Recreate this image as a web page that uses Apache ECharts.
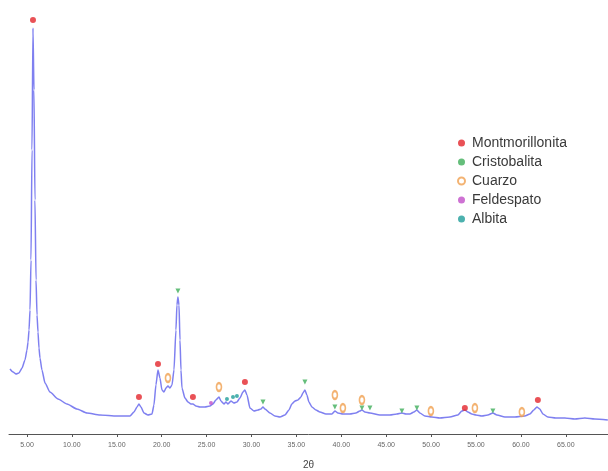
<!DOCTYPE html>
<html>
<head>
<meta charset="utf-8">
<script src="https://cdn.jsdelivr.net/npm/echarts@6/dist/echarts.min.js"></script>
<style>
  html, body { margin: 0; padding: 0; background: #fff; }
  #chart { width: 608px; height: 471px; }
</style>
</head>
<body>
<div id="chart"></div>
<script>
// XRD pattern: 2θ (degrees) and intensity (arbitrary units)
var twoTheta = [
  3.11, 3.45, 3.78, 4.11, 4.45, 4.78, 5.00, 5.12, 5.23, 5.34, 5.45, 5.56, 5.67, 5.78, 5.89, 6.01,
  6.12, 6.23, 6.34, 6.45, 6.67, 7.01, 7.56, 8.46, 9.46, 10.57, 11.68, 13.13, 15.02, 16.47, 16.92,
  17.25, 17.47, 17.69, 18.03, 18.47, 18.92, 19.14, 19.36, 19.59, 19.81, 20.03, 20.26, 20.48, 20.70,
  20.92, 21.15, 21.37, 21.59, 21.70, 21.81, 21.93, 22.04, 22.15, 22.26, 22.59, 22.93, 23.26, 23.48,
  23.82, 24.26, 24.82, 25.38, 25.71, 26.04, 26.38, 26.60, 26.94, 27.16, 27.38, 27.71, 28.05, 28.38,
  28.72, 29.05, 29.27, 29.50, 29.83, 30.28, 30.72, 31.05, 31.28, 31.50, 32.06, 32.61, 33.17, 33.73,
  34.17, 34.50, 34.84, 35.17, 35.51, 35.73, 35.95, 36.17, 36.40, 36.73, 37.18, 37.62, 38.29, 38.96,
  39.29, 39.63, 40.18, 40.96, 41.63, 42.07, 42.30, 42.63, 43.19, 44.30, 45.41, 46.19, 46.75, 47.20,
  47.64, 48.09, 48.42, 48.75, 49.31, 50.09, 50.98, 52.09, 52.98, 53.43, 53.76, 54.10, 54.54, 54.99,
  55.66, 56.32, 56.88, 57.33, 58.22, 59.33, 60.44, 61.00, 61.44, 61.78, 62.11, 62.45, 63.00, 63.89,
  64.90, 66.01, 67.12, 68.23, 69.68
];
var intensity = [
  65, 62, 60, 61, 66, 74, 84, 92, 104, 124, 174, 284, 406, 344, 234, 154,
  119, 102, 86, 76, 64, 51, 42, 35, 30, 25, 21, 19, 18, 18, 22,
  27, 30, 27, 21, 19, 20, 29, 49, 64, 56, 44, 42, 46, 48,
  46, 49, 64, 104, 129, 137, 129, 94, 64, 46, 36, 32, 30, 30,
  28, 27, 27, 28, 30, 34, 37, 33, 30, 32, 30, 33, 31, 32,
  36, 42, 44, 39, 26, 23, 24, 25, 27, 25, 21, 18, 17, 19,
  24, 30, 33, 34, 37, 41, 44, 39, 32, 27, 24, 22, 20, 20,
  23, 21, 20, 20, 21, 23, 24, 22, 21, 19, 19, 20, 21, 20,
  20, 22, 24, 21, 18, 17, 16, 17, 19, 23, 24, 22, 20, 19,
  18, 19, 21, 19, 17, 17, 18, 20, 24, 27, 25, 20, 17, 16,
  16, 15, 16, 15, 14
];

// Phase identification marks: [2θ, marker height]
var montmorillonita = [[5.67, 414], [17.47, 37], [19.59, 70], [23.48, 37], [29.27, 52], [53.76, 26], [61.89, 34]];
var cristobalita = [[21.81, 143], [31.28, 32], [35.95, 52], [39.29, 27], [42.30, 26], [43.19, 26], [46.75, 23], [48.42, 26], [56.88, 23]];
var cuarzo = [[20.70, 56], [26.38, 47], [39.29, 39], [40.18, 26], [42.30, 34], [49.98, 23], [54.88, 26], [60.11, 22]];
var feldespato = [[25.49, 31]];
var albita = [[27.27, 35], [27.94, 37], [28.38, 38]];

var tickValues = [5, 10, 15, 20, 25, 30, 35, 40, 45, 50, 55, 60, 65];

var pattern = twoTheta.map(function (t, i) { return [t, intensity[i]]; });

var chart = echarts.init(document.getElementById('chart'), null, { renderer: 'canvas' });

function phase(name, data, symbol, size, color, extra) {
  var s = {
    name: name,
    type: 'scatter',
    data: data,
    symbol: symbol,
    symbolSize: size,
    clip: false,
    z: 5,
    itemStyle: { color: color }
  };
  for (var k in extra) s[k] = extra[k];
  return s;
}

chart.setOption({
  animation: false,
  backgroundColor: '#ffffff',
  textStyle: { fontFamily: 'Liberation Sans, Arial, sans-serif' },
  grid: { left: 9, right: 0, top: 0, bottom: 37, containLabel: false, outerBoundsMode: 'none' },
  legend: {
    orient: 'vertical',
    left: 452,
    top: 130,
    itemGap: 3,
    itemWidth: 7,
    itemHeight: 7,
    textStyle: {
      fontSize: 14,
      lineHeight: 16,
      color: '#3a3a3a',
      padding: [0, 0, 0, 2],
      fontFamily: 'Liberation Sans, Arial, sans-serif'
    },
    data: [
      { name: 'Montmorillonita', icon: 'circle' },
      { name: 'Cristobalita', icon: 'circle' },
      { name: 'Cuarzo', icon: 'emptyCircle' },
      { name: 'Feldespato', icon: 'circle' },
      { name: 'Albita', icon: 'circle' }
    ]
  },
  xAxis: {
    type: 'value',
    min: 3,
    max: 69.7,
    name: '2θ',
    nameLocation: 'middle',
    nameGap: 26,
    nameTextStyle: { fontSize: 10, color: '#444' },
    axisLine: { show: true, lineStyle: { color: '#555', width: 1 } },
    axisTick: { show: true, length: 3, customValues: tickValues, lineStyle: { color: '#555' } },
    axisLabel: {
      customValues: tickValues,
      fontSize: 7,
      color: '#666',
      margin: 8,
      formatter: function (v) { return v.toFixed(2); }
    },
    splitLine: { show: false }
  },
  yAxis: {
    type: 'value',
    min: 0,
    max: 434,
    show: false,
    splitLine: { show: false }
  },
  series: [
    {
      name: 'pattern',
      type: 'line',
      data: pattern,
      showSymbol: false,
      smooth: 0.2,
      smoothMonotone: 'x',
      lineStyle: { color: '#7f80f0', width: 1.5 },
      z: 2
    },
    phase('Montmorillonita', montmorillonita, 'circle', 6, '#e3262c', {}),
    phase('Cristobalita', cristobalita, 'triangle', 5, '#3fae5a', { symbolRotate: 180 }),
    phase('Cuarzo', cuarzo, 'emptyCircle', [5, 8], '#f0a050', {}),
    phase('Feldespato', feldespato, 'circle', 4, '#c24fc8', {}),
    phase('Albita', albita, 'circle', 4, '#1f9e9a', {})
  ]
});
</script>
</body>
</html>
